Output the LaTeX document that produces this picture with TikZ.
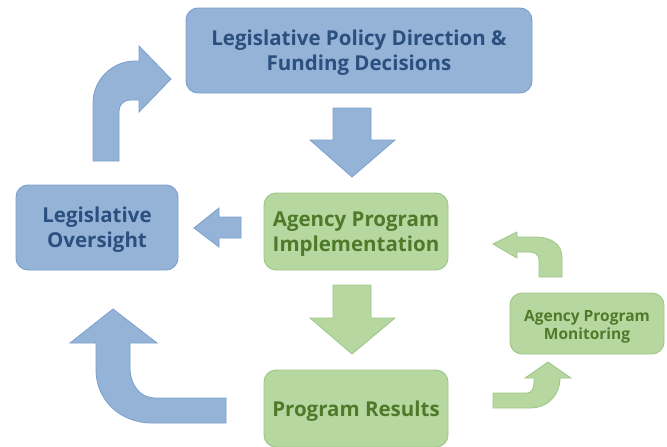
\documentclass[tikz,border=0pt]{standalone}
\usepackage{fontspec}
\setmainfont{Open Sans}
\usepackage{tikz}
\usetikzlibrary{positioning}
\definecolor{bluefill}{HTML}{95B3D7}
\definecolor{blueline}{HTML}{7BA0CD}
\definecolor{bluetext}{HTML}{2B4F7F}
\definecolor{greenfill}{HTML}{B7D7A1}
\definecolor{greenline}{HTML}{9DC687}
\definecolor{greentext}{HTML}{4E7A2A}

\begin{document}
\begin{tikzpicture}[x=1pt,y=-1pt,
    bluebox/.style={draw=blueline,fill=bluefill,line width=0.9pt,rounded corners=12pt},
    greenbox/.style={draw=greenline,fill=greenfill,line width=0.9pt,rounded corners=12pt},
    bluetxt/.style={text=bluetext,font=\bfseries\fontsize{20.5}{25}\selectfont,align=center,yshift=-2.5pt},
    greentxt/.style={text=greentext,font=\bfseries\fontsize{20.5}{25}\selectfont,align=center,yshift=-3pt},
    bluearrow/.style={draw=blueline,fill=bluefill,line width=0.8pt,line join=miter},
    greenarrow/.style={draw=greenline,fill=greenfill,line width=0.8pt,line join=miter}]
  \useasboundingbox (0,0) rectangle (667,447);
  \node[bluebox,minimum width=346pt,minimum height=85pt,
    label={[bluetxt]center:Legislative Policy Direction \&\\Funding Decisions}] (policy) at (359,50.5) {};
  \node[bluebox,minimum width=162pt,minimum height=85pt,
    label={[bluetxt]center:Legislative\\Oversight}] (oversight) at (97,227.5) {};
  \node[greenbox,minimum width=184pt,minimum height=77pt,
    label={[greentxt]center:Agency Program\\Implementation}] (impl) at (356,231.5) {};
  \node[greenbox,minimum width=184pt,minimum height=77pt,
    label={[greentxt]center:Program Results}] (results) at (356,408.5) {};
  \node[greenbox,minimum width=154pt,minimum height=61pt,
    label={[greentxt,font=\bfseries\fontsize{15.5}{18}\selectfont]center:Agency Program\\Monitoring}]
    (monitor) at (587,323.5) {};
  \draw[bluearrow] (333,108) -- (371,108) -- (371,140) -- (395,140) -- (352,177)
    -- (310,140) -- (333,140) -- cycle;
  \draw[greenarrow] (333,285) -- (371,285) -- (371,318) -- (395,318) -- (352,354)
    -- (310,318) -- (333,318) -- cycle;
  \draw[bluearrow] (241,217) -- (241,238) -- (219,238) -- (219,247) -- (194,228)
    -- (219,208) -- (219,217) -- cycle;
  \draw[bluearrow] (93,161) -- (93,103) .. controls (93,80) and (112,61) .. (135,61)
    -- (139,61) -- (139,46) -- (171,79) -- (139,112) -- (139,100) -- (130,100)
    .. controls (124,100) and (119,105) .. (119,111) -- (119,161) -- cycle;
  \draw[bluearrow] (226,398) -- (155,398) .. controls (140,398) and (130,385) .. (130,367)
    -- (130,343) -- (157,343) -- (113,309) -- (70,343) -- (96,343) -- (96,370)
    .. controls (96,400) and (120,423) .. (152,423) -- (226,423) -- cycle;
  \draw[greenarrow] (562,277) -- (562,257) .. controls (562,245) and (552,237) .. (535,237)
    -- (517,237) -- (517,232) -- (493,244) -- (517,258) -- (517,252) -- (530,252)
    .. controls (535,252) and (539,255) .. (539,260) -- (539,277) -- cycle;
  \draw[greenarrow] (493,393) -- (527,393) .. controls (531,393) and (534,389) .. (534,383)
    -- (534,378) -- (525,378) -- (548,362) -- (571,378) -- (560,378)
    .. controls (560,395) and (548,408) .. (530,408) -- (493,408) -- cycle;
\end{tikzpicture}
\end{document}
